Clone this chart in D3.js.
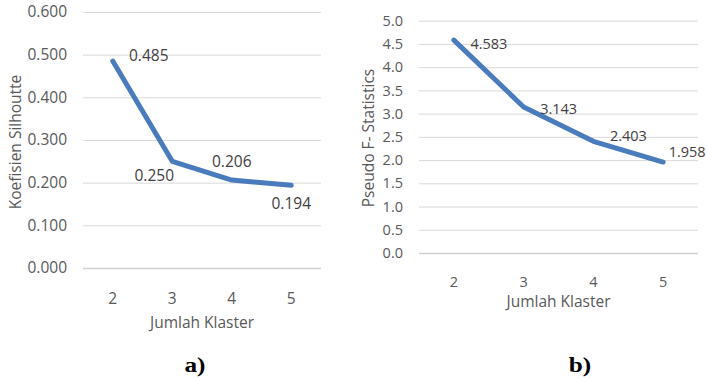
<!DOCTYPE html>
<html>
<head>
<meta charset="utf-8">
<script src="https://cdn.jsdelivr.net/npm/d3@7"></script>
<style>
  html, body { margin: 0; padding: 0; background: #ffffff; }
  svg { display: block; }
  text { font-family: "Open Sans", "Noto Sans", sans-serif; }
</style>
</head>
<body>
<svg id="chart" width="707" height="380"></svg>
<script>
// Cluster counts shared by both panels
const clusters = ["2", "3", "4", "5"];

// Panel a: silhouette coefficient per cluster count
const silhouette = [0.485, 0.250, 0.206, 0.194];
const silhouetteTicks = [0, 0.1, 0.2, 0.3, 0.4, 0.5, 0.6];

// Panel b: pseudo F statistic per cluster count
const pseudoF = [4.583, 3.143, 2.403, 1.958];
const pseudoFTicks = [0, 0.5, 1, 1.5, 2, 2.5, 3, 3.5, 4, 4.5, 5];

const svg = d3.select("#chart");
const lineColor = "#4a7bbd";
const gridColor = "#d9d9d9";
const tickColor = "#595959";
const labelColor = "#404040";

function drawPanel(cfg) {
  const x = d3.scaleBand().domain(clusters).range([cfg.left, cfg.right]);
  const y = d3.scaleLinear().domain(cfg.domain).range([cfg.bottom, cfg.top]);
  const g = svg.append("g");

  // horizontal gridlines + y tick labels via axis
  const yAxis = g.append("g")
    .attr("transform", `translate(${cfg.left},0)`)
    .call(d3.axisLeft(y).tickValues(cfg.ticks).tickFormat(d3.format(cfg.fmt))
      .tickSize(-(cfg.right - cfg.left)).tickPadding(cfg.tickPad));
  yAxis.select(".domain").remove();
  yAxis.selectAll(".tick line")
    .attr("stroke", (d) => d === 0 ? "#d0d0d0" : gridColor)
    .attr("stroke-width", (d) => d === 0 ? 1.5 : 1);
  yAxis.selectAll(".tick text")
    .attr("fill", tickColor)
    .attr("font-size", cfg.tickFont)
    .style("font-family", "'Open Sans', sans-serif");

  // x tick labels
  const xAxis = g.append("g")
    .attr("transform", `translate(0,${cfg.bottom})`)
    .call(d3.axisBottom(x).tickSize(0).tickPadding(cfg.xPad));
  xAxis.select(".domain").remove();
  xAxis.selectAll(".tick text")
    .attr("fill", tickColor)
    .attr("font-size", cfg.tickFont)
    .style("font-family", "'Open Sans', sans-serif");

  // the series line
  const line = d3.line()
    .x((d, i) => x(clusters[i]) + x.bandwidth() / 2)
    .y((d) => y(d));
  g.append("path")
    .datum(cfg.values)
    .attr("d", line)
    .attr("fill", "none")
    .attr("stroke", lineColor)
    .attr("stroke-width", 5)
    .attr("stroke-linecap", "round")
    .attr("stroke-linejoin", "round");

  // value labels
  g.selectAll(".val")
    .data(cfg.values)
    .join("text")
    .attr("class", "val")
    .attr("x", (d, i) => x(clusters[i]) + x.bandwidth() / 2 + cfg.offsets[i][0])
    .attr("y", (d, i) => y(d) + cfg.offsets[i][1])
    .attr("text-anchor", "middle")
    .attr("dominant-baseline", "central")
    .attr("fill", labelColor)
    .attr("font-size", cfg.valFont)
    .text((d) => d3.format(".3f")(d));

  // axis titles
  g.append("text")
    .attr("x", (cfg.left + cfg.right) / 2)
    .attr("y", cfg.xTitleY)
    .attr("text-anchor", "middle")
    .attr("dominant-baseline", "central")
    .attr("fill", tickColor)
    .attr("font-size", 15.5)
    .text("Jumlah Klaster");

  g.append("text")
    .attr("transform", `translate(${cfg.yTitleX},${cfg.yTitleY}) rotate(-90)`)
    .attr("text-anchor", "middle")
    .attr("dominant-baseline", "central")
    .attr("fill", tickColor)
    .attr("font-size", 15.5)
    .text(cfg.yTitle);

  // panel caption (slightly widened bold serif)
  svg.append("text")
    .attr("transform", `translate(${cfg.captionX},372) scale(1.15,1)`)
    .attr("text-anchor", "middle")
    .attr("fill", "#000")
    .attr("font-size", 22)
    .attr("font-weight", "bold")
    .style("font-family", "'Liberation Serif', 'Times New Roman', serif")
    .text(cfg.caption);
}

drawPanel({
  values: silhouette, ticks: silhouetteTicks, domain: [0, 0.6], fmt: ".3f",
  left: 83, right: 321, top: 12, bottom: 268,
  tickPad: 16, xPad: 25, tickFont: 15.5, valFont: 15.5,
  offsets: [[36, -6], [-18, 14], [0, -19], [0, 18]],
  xTitleY: 322, yTitleX: 15, yTitleY: 142, yTitle: "Koefisien Silhoutte",
  captionX: 195, caption: "a)"
});

drawPanel({
  values: pseudoF, ticks: pseudoFTicks, domain: [0, 5], fmt: ".1f",
  left: 419, right: 698, top: 20.7, bottom: 253,
  tickPad: 16, xPad: 24, tickFont: 14.5, valFont: 14.5,
  offsets: [[35, 3.5], [35, 1.5], [35, -6], [24, -11]],
  xTitleY: 301, yTitleX: 368, yTitleY: 138, yTitle: "Pseudo F- Statistics",
  captionX: 580, caption: "b)"
});
</script>
</body>
</html>
